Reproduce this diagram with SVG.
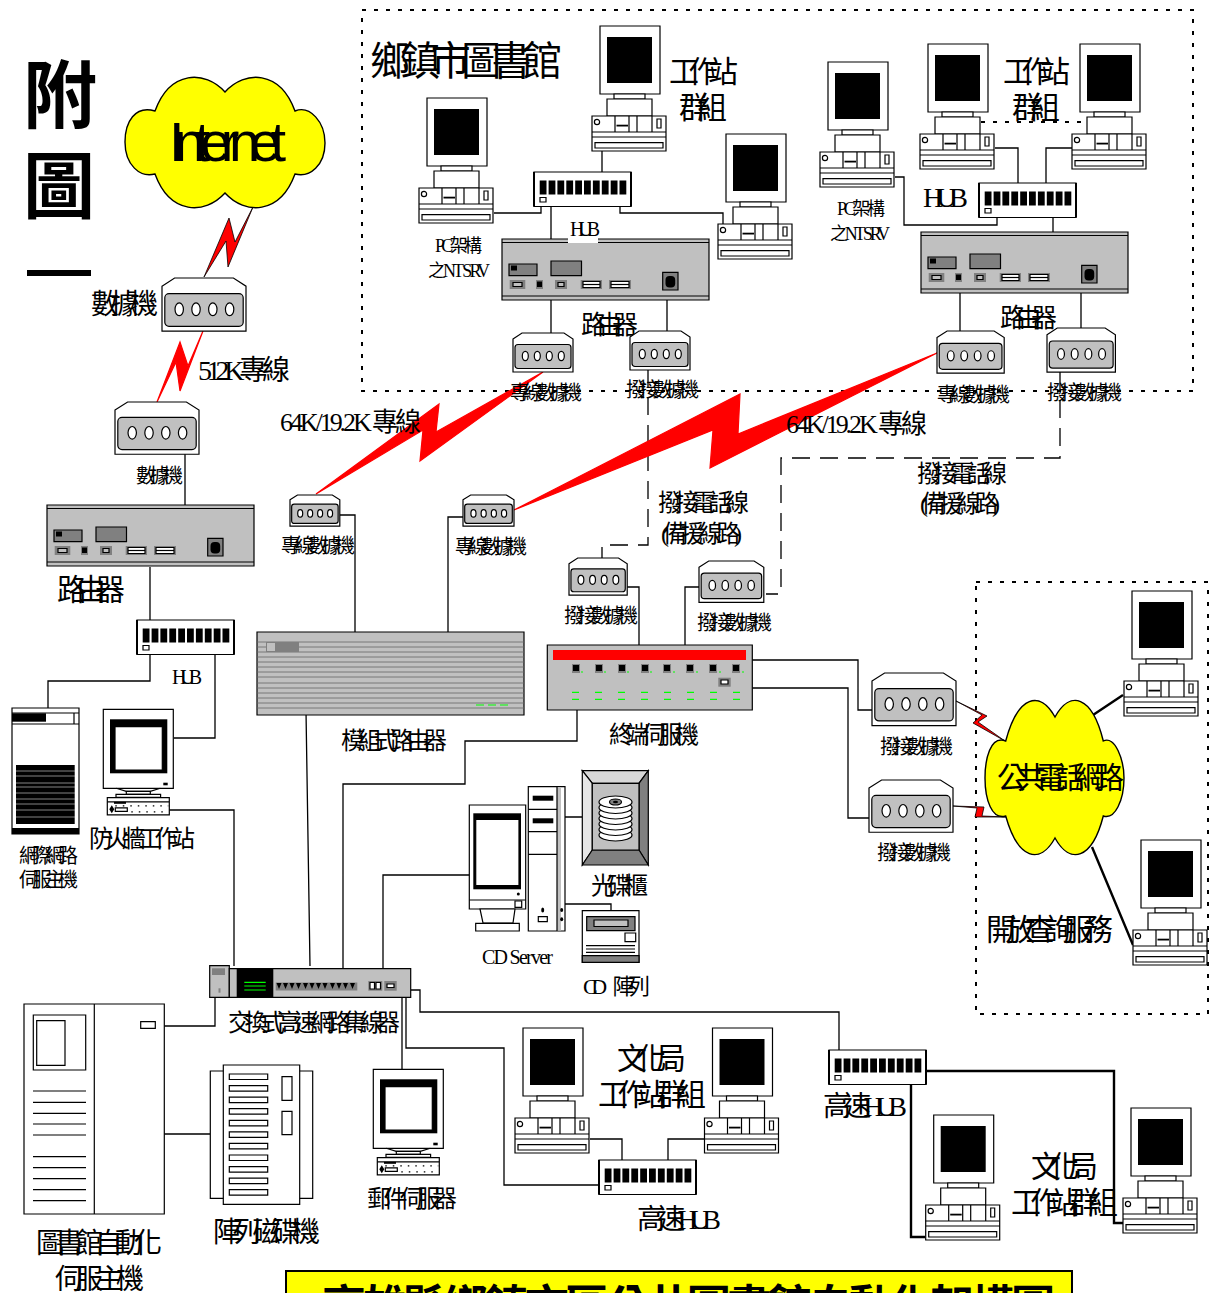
<svg xmlns="http://www.w3.org/2000/svg" xmlns:xlink="http://www.w3.org/1999/xlink" width="1210" height="1293" viewBox="0 0 1210 1293">
<style>
text{font-family:"Liberation Serif","Noto Sans CJK TC","Noto Sans CJK SC",serif;fill:#000;text-anchor:start}
.b{font-weight:700}
.s,.s *{vector-effect:non-scaling-stroke}
.s{stroke:#000;stroke-width:1.2;fill:#fff}
.g{fill:#c0c0c0}
.d{fill:#808080}
.k{fill:#000;stroke:none}
.w{fill:#fff}
.n{fill:none}
.l{fill:none;stroke:#000;stroke-width:1.3}
.lt{fill:none;stroke:#000;stroke-width:2.4}
.dot{fill:none;stroke:#000;stroke-width:2;stroke-dasharray:4 8}
.dash{fill:none;stroke:#000;stroke-width:1.3;stroke-dasharray:18 10}
.bolt{fill:#f00;stroke:#f00;stroke-width:1.2}
.boltk{fill:#f00;stroke:#000;stroke-width:.8}
.cloud{fill:#ff0;stroke:#000;stroke-width:1.4}
.gl{stroke:#0f0;stroke-width:1.2;fill:none}
</style>
<defs>
<g id="pc" class="s">
<rect width="60" height="68"/>
<rect class="k" x="7" y="11" width="45" height="46"/>
<rect x="14" y="68" width="31" height="5"/>
<rect x="7" y="73" width="45" height="17"/>
<rect x="-8" y="90" width="74" height="35"/>
<path class="n" d="M-8 106H66M-8 111H66M15 90V106M29 90V106M37 90V106M52 90V106"/>
<path class="n" style="stroke-width:1.8" d="M16.5 99.6H28"/>
<rect x="-5" y="116.6" width="68" height="5.4"/>
<rect x="57" y="93" width="4" height="9"/>
<circle cx="-3" cy="96" r="2.6"/>
</g>
<g id="hub" class="s">
<rect width="97" height="34.5"/>
<path class="n" d="M0 0V34.5M97 0V34.5" style="stroke-width:2"/>
<g class="k">
<rect x="5.7" y="8.5" width="6.8" height="14"/><rect x="14.6" y="8.5" width="6.8" height="14"/><rect x="23.4" y="8.5" width="6.8" height="14"/><rect x="32.3" y="8.5" width="6.8" height="14"/><rect x="41.2" y="8.5" width="6.8" height="14"/><rect x="50" y="8.5" width="6.8" height="14"/><rect x="58.9" y="8.5" width="6.8" height="14"/><rect x="67.8" y="8.5" width="6.8" height="14"/><rect x="76.7" y="8.5" width="6.8" height="14"/><rect x="85.5" y="8.5" width="6.8" height="14"/>
</g>
<rect x="6" y="25.5" width="6" height="4.5"/>
</g>
<g id="router" class="s">
<rect class="g" width="207" height="61"/>
<path class="n" d="M0 3.5H207M0 57H207"/>
<rect class="d" x="7" y="25" width="28" height="11.7"/>
<rect class="k" x="9" y="26.5" width="6" height="5"/>
<rect class="d" x="49" y="22" width="30.5" height="14.7"/>
<rect class="d" style="stroke:none" x="7.7" y="41" width="15.6" height="9"/>
<rect class="g" x="11" y="43.5" width="9" height="4"/>
<rect class="d" style="stroke:none" x="34" y="41" width="7" height="9"/>
<rect class="k" x="35" y="42.5" width="5" height="5.5"/>
<rect class="d" style="stroke:none" x="53" y="41" width="12" height="9"/>
<rect class="g" x="56" y="43.5" width="6" height="4"/>
<rect class="d" style="stroke:none" x="78.7" y="41" width="21.3" height="9"/>
<rect x="81" y="42.5" width="17" height="6"/>
<path class="n" d="M81 45.5H98"/>
<rect class="d" style="stroke:none" x="107" y="41" width="22" height="9"/>
<rect x="109" y="42.5" width="18" height="6"/>
<path class="n" d="M109 45.5H127"/>
<rect class="d" x="160.7" y="33.3" width="15.3" height="17.7"/>
<rect class="k" x="163.5" y="37" width="9.7" height="11.5" rx="4"/>
</g>
<g id="modem" class="s">
<path d="M0 6L9 0H51L60 6V39H0Z"/>
<rect class="g" x="2" y="11.5" width="56" height="24" rx="3"/>
<ellipse cx="12.3" cy="23" rx="3" ry="4.7"/><ellipse cx="24.3" cy="23" rx="3" ry="4.7"/><ellipse cx="36.3" cy="23" rx="3" ry="4.7"/><ellipse cx="48.3" cy="23" rx="3" ry="4.7"/>
</g>
<g id="crt" class="s">
<rect width="70" height="79"/>
<rect class="k" x="6.7" y="10" width="57.3" height="54"/>
<rect x="11.7" y="17.4" width="47.3" height="43.3"/>
<rect class="k" x="60" y="73.4" width="4.4" height="2.6"/>
<path class="n" d="M13 79L23 82H47L57 79"/>
<rect x="23" y="82" width="24" height="3"/>
<rect x="12.7" y="85" width="44.6" height="3"/>
<rect x="4" y="88.3" width="62" height="17.3"/>
<path class="n" d="M4 92.5H66"/>
<rect class="k" x="10.7" y="92.5" width="12" height="2"/>
<path class="k" d="M8.5 96L11 100L8.5 104L6 100Z"/>
<rect x="12" y="98.5" width="12" height="3.5"/>
<path class="n" style="stroke-dasharray:1.5 6" d="M12 96.5H65M28 102.5H65"/>
</g>
</defs>

<g id="connectors">
<path class="dot" d="M362 10H1193V391H362Z"/>
<path class="dot" d="M976 582H1208V1014H976Z"/>
<path class="dot" d="M981 122H1083"/>
<path class="l" d="M602 151V172M494 213H541V206M620 206V213H723V224M551 206V239M551 300V333M667 300V331"/>
<path class="l" d="M895 177H904V225H997V218M995 148H1018V183M1073 148H1046V183M1053 218V232M960 292V336M1081 292V328"/>
<path class="dash" d="M648 369V545H602V558"/>
<path class="dash" d="M1060 372V458H781V594H766"/>
<path class="l" d="M185 454V505M150 567V620M150 655V681H48V708M215 655V738H174M169 810H234V966"/>
<path class="l" d="M340 515H355V632M448 632V517H463M306 711L310 966"/>
<path class="l" d="M577 710V741H465V784H343V970M383 968V875H472"/>
<path class="l" d="M752 660H858V710H872M752 688H848V818H869M627 587H639V645M685 645V587H699"/>
<path class="l" d="M565 817H582M565 904H611V911"/>
<path class="l" d="M215 997V1026H164M402 997V1069M406 997V1048H504V1185H599M411 990H420V1012H839V1050"/>
<path class="l" d="M590 1139H622V1160M705 1139H668V1160M164 1134H210"/>
<path class="lt" d="M925 1071H1114V1223H1127M911 1085V1237H925"/>
<path class="lt" d="M1093 715L1123 695M1092 847L1133 945"/>
<path class="boltk" d="M204 277L229 218L235 242L253 207L228 267L226 241Z"/>
<path class="bolt" d="M157 402L180 342L188 366L203 331L180 391L176 362Z"/>
<path class="bolt" d="M316 494L439 404L436 432L543 372L420 461L423 430Z"/>
<path class="bolt" d="M514 510L740 394L738 434L937 353L710 468L713 430Z"/>
<path class="boltk" d="M956 701L987 716L978 722L1005 741L973 723L982 715Z"/>
<path class="boltk" d="M953 806L984 807L982 816L1007 817L975 817L977 808Z"/>
</g>

<g id="title-side">
<text class="b" x="23" y="122" font-size="74" textLength="70">附</text>
<text class="b" x="23" y="212" font-size="72" textLength="70">圖</text>
<rect x="27" y="270" width="64" height="6" fill="#000"/>
</g>

<g id="internet">
<path class="cloud" d="M225 92C205 70 170 70 155 111C135 105 125 122 125 142C125 165 140 178 155 174C170 215 205 215 225 193C245 215 280 215 295 174C310 178 325 165 325 143C325 122 310 105 295 111C280 70 245 70 225 92Z"/>
<text style="font-family:'Liberation Sans',sans-serif" x="169" y="161" font-size="56" textLength="117" lengthAdjust="spacing">Internet</text>
</g>

<g id="library-title"><text x="370" y="75" font-size="40" textLength="192">鄉鎮市圖書館</text></g>

<g id="pc-top-1"><use href="#pc" x="600" y="26"/></g>
<g id="pc-top-2"><use href="#pc" x="427" y="98"/>
<text x="435" y="252" font-size="18" textLength="47">PC架構</text>
<text x="428" y="277" font-size="18" textLength="62">之NT SRV</text></g>
<g id="pc-top-3"><use href="#pc" x="726" y="134"/></g>
<text x="669" y="82" font-size="30" textLength="69">工作站</text>
<text x="679" y="118" font-size="30" textLength="48">群組</text>

<g id="router-a"><use href="#router" x="502" y="239"/>
<rect x="568" y="238" width="30" height="5" fill="#fff"/>
<text x="570" y="236" font-size="20" textLength="30">HUB</text>
<text x="581" y="334" font-size="26" textLength="57">路由器</text></g>
<g id="hub-a"><use href="#hub" x="534" y="172"/></g>
<g id="modem-a1"><use href="#modem" x="513" y="333"/><text x="510" y="400" font-size="20" textLength="72">專線數據機</text></g>
<g id="modem-a2"><use href="#modem" x="630" y="331"/><text x="626" y="397" font-size="20" textLength="73">撥接數據機</text></g>

<g id="pc-right-1"><use href="#pc" x="828" y="62"/>
<text x="837" y="215" font-size="18" textLength="48">PC架構</text>
<text x="830" y="240" font-size="18" textLength="60">之NT SRV</text></g>
<g id="pc-right-2"><use href="#pc" x="928" y="44"/></g>
<g id="pc-right-3"><use href="#pc" x="1080" y="44"/></g>
<text x="1003" y="82" font-size="30" textLength="67">工作站</text>
<text x="1012" y="118" font-size="30" textLength="48">群組</text>
<g id="hub-b"><use href="#hub" x="979" y="183"/><text x="923" y="207" font-size="28" textLength="45">HUB</text></g>
<g id="router-b"><use href="#router" x="921" y="232"/><text x="1000" y="327" font-size="26" textLength="57">路由器</text></g>
<g id="modem-b1"><use href="#modem" transform="translate(937 331) scale(1.12 1.08)"/><text x="937" y="402" font-size="20" textLength="73">專線數據機</text></g>
<g id="modem-b2"><use href="#modem" transform="translate(1047 328) scale(1.14 1.13)"/><text x="1047" y="400" font-size="20" textLength="75">撥接數據機</text></g>

<text x="280" y="431" font-size="26" textLength="141">64K/19.2K 專線</text>
<text x="786" y="433" font-size="26" textLength="141">64K/19.2K 專線</text>
<text x="917" y="482" font-size="24" textLength="90">撥接電話線</text>
<text x="920" y="512" font-size="24" textLength="80">(備援線路)</text>
<text x="658" y="511" font-size="24" textLength="91">撥接電話線</text>
<text x="661" y="542" font-size="24" textLength="81">(備援線路)</text>

<g id="modem-c1"><use href="#modem" transform="translate(162 278) scale(1.4 1.36)"/><text x="91" y="314" font-size="28" textLength="67">數據機</text></g>
<text x="198" y="380" font-size="28" textLength="92">512K專線</text>
<g id="modem-c2"><use href="#modem" transform="translate(115 402) scale(1.4 1.34)"/><text x="136" y="483" font-size="20" textLength="47">數據機</text></g>
<g id="router-c"><use href="#router" x="47" y="505"/><text x="57" y="600" font-size="30" textLength="68">路由器</text></g>
<g id="hub-c"><use href="#hub" x="137" y="620"/><text x="172" y="684" font-size="20" textLength="30">HUB</text></g>

<g id="web-server" class="s">
<rect x="12" y="708" width="67" height="126"/>
<path class="n" d="M12 713H79M12 724H79M74 713V724"/>
<rect class="k" x="12" y="713.3" width="34" height="8.4"/>
<rect class="k" x="16" y="765" width="58.7" height="59"/>
<path class="n" style="stroke:#bbb;stroke-width:.7" d="M16 771H75M16 776H75M16 783H75M16 787H75M16 793H75M16 799H75M16 804H75M16 810H75M16 817H75"/>
<rect class="k" x="12" y="828" width="67" height="6"/>
<text style="stroke:none" x="19" y="863" font-size="20" textLength="59">網際網路</text>
<text style="stroke:none" x="19" y="887" font-size="20" textLength="59">伺服主機</text>
</g>
<g id="firewall"><use href="#crt" x="103.3" y="709.3"/><text x="89" y="847" font-size="24" textLength="106">防火牆工作站</text></g>

<g id="modem-d1"><use href="#modem" transform="translate(290 495) scale(.83 .8)"/><text x="281" y="553" font-size="20" textLength="74">專線數據機</text></g>
<g id="modem-d2"><use href="#modem" transform="translate(463 495) scale(.85 .8)"/><text x="455" y="554" font-size="20" textLength="72">專線數據機</text></g>
<g id="modem-e1"><use href="#modem" transform="translate(569 558) scale(.97 .95)"/><text x="564" y="623" font-size="20" textLength="74">撥接數據機</text></g>
<g id="modem-e2"><use href="#modem" transform="translate(699 561) scale(1.08 1.06)"/><text x="697" y="630" font-size="20" textLength="75">撥接數據機</text></g>

<g id="module-router" class="s">
<rect class="g" x="257" y="632" width="267" height="83"/>
<path class="n" style="stroke:#666;stroke-width:.8" d="M257 642H524M257 647H524M257 652H524M257 657H524M257 662H524M257 667H524M257 672H524M257 677H524M257 683H524M257 688H524M257 693H524M257 698H524M257 703H524M257 708H524"/>
<rect class="d" style="stroke:none" x="266" y="642" width="33" height="10"/>
<rect class="g" style="stroke:none" x="267" y="643" width="8" height="8"/>
<path class="gl" d="M476 705H484M488 705H496M500 705H508"/>
<text style="stroke:none" x="341" y="749" font-size="24" textLength="106">模組式路由器</text>
</g>

<g id="terminal-server" class="s">
<rect class="g" x="547.3" y="645" width="205" height="65"/>
<rect x="553" y="650" width="193" height="10" fill="#f00" style="fill:#f00;stroke:none"/>
<g class="d" style="stroke:none"><rect x="572" y="664" width="8" height="9"/><rect x="595" y="664" width="8" height="9"/><rect x="618" y="664" width="8" height="9"/><rect x="641" y="664" width="8" height="9"/><rect x="663" y="664" width="8" height="9"/><rect x="686" y="664" width="8" height="9"/><rect x="709" y="664" width="8" height="9"/><rect x="732" y="664" width="8" height="9"/></g>
<g class="k"><rect x="573" y="665" width="6" height="6"/><rect x="596" y="665" width="6" height="6"/><rect x="619" y="665" width="6" height="6"/><rect x="642" y="665" width="6" height="6"/><rect x="664" y="665" width="6" height="6"/><rect x="687" y="665" width="6" height="6"/><rect x="710" y="665" width="6" height="6"/><rect x="733" y="665" width="6" height="6"/></g>
<path class="gl" d="M572 692.3H579M595 692.3H602M618 692.3H625M641 692.3H648M664 692.3H671M687 692.3H694M710 692.3H717M733 692.3H740M572 699.3H579M595 699.3H602M618 699.3H625M641 699.3H648M664 699.3H671M687 699.3H694M710 699.3H717M733 699.3H740M581 672H583M604 672H606M627 672H629M650 672H652M673 672H675M696 672H698M719 672H721M742 672H744"/>
<rect class="d" style="stroke:none" x="718.3" y="677.7" width="12.4" height="9"/>
<rect x="721" y="680" width="7" height="4"/>
<text style="stroke:none" x="609" y="743" font-size="24" textLength="90">終端伺服機</text>
</g>

<g id="modem-f1"><use href="#modem" transform="translate(872 673) scale(1.4 1.35)"/><text x="880" y="754" font-size="20" textLength="73">撥接數據機</text></g>
<g id="modem-f2"><use href="#modem" transform="translate(869 780) scale(1.4 1.34)"/><text x="877" y="860" font-size="20" textLength="74">撥接數據機</text></g>

<g id="public-net">
<path class="cloud" d="M1055 717C1040 690 1018 695 1005.7 741C990 735 985 760 985 778C985 800 992 820 1005.7 816C1018 860 1040 865 1055 838C1070 865 1092 860 1103.3 816C1115 820 1124 800 1124 778C1124 760 1115 735 1103.3 741C1092 695 1070 690 1055 717Z"/>
<text x="997" y="788" font-size="30" textLength="127">公共電話網路</text>
</g>
<g id="pc-pub-1"><use href="#pc" x="1132" y="591"/></g>
<g id="pc-pub-2"><use href="#pc" x="1141" y="840"/></g>
<text x="986" y="940" font-size="30" textLength="127">開放查詢服務</text>

<g id="cd-server" class="s">
<rect x="469.3" y="805" width="56.4" height="104"/>
<rect class="k" x="473.3" y="813.3" width="47.7" height="76"/>
<rect x="475.7" y="819.3" width="43.3" height="66.4"/>
<path class="n" d="M469.3 900H525.7"/>
<rect x="515" y="901" width="6.7" height="6.3"/>
<circle class="k" cx="518.3" cy="894" r="1.5"/>
<path d="M480 909L483 923H513L515 909Z"/>
<rect x="475.7" y="923.3" width="43.6" height="7.7"/>
<rect x="528.3" y="786.7" width="36.7" height="144.3"/>
<rect class="g" style="stroke:none" x="557" y="787.5" width="4" height="143"/>
<path class="n" d="M528.3 809.3H557M528.3 831.7H557M528.3 854.3H557M557 786.7V931"/>
<rect class="k" x="532.7" y="795.7" width="20.6" height="5"/>
<rect class="k" x="532.7" y="818.3" width="20.6" height="5"/>
<ellipse class="k" cx="542.7" cy="910" rx="1.5" ry="2.5"/>
<rect x="538.3" y="916.7" width="9" height="5"/>
<ellipse class="k" cx="561.7" cy="910" rx="1.5" ry="2"/>
<ellipse class="k" cx="561.7" cy="919.3" rx="1.5" ry="2"/>
<text style="stroke:none" x="482" y="964" font-size="20" textLength="71">CD Server</text>
</g>

<g id="cd-cabinet" class="s">
<path style="fill:#d8d8d8" d="M582.3 770.7H648.3L639 783.3H592.3Z"/>
<path style="fill:#e6e6e6" d="M582.3 770.7L592.3 783.3V850L582.3 865Z"/>
<path class="d" d="M648.3 770.7L639 783.3V850L648.3 865Z"/>
<path class="d" d="M582.3 865L592.3 850H639L648.3 865Z"/>
<rect class="g" x="592.3" y="783.3" width="46.7" height="66.7"/>
<ellipse cx="615.5" cy="835" rx="16.5" ry="6"/><ellipse cx="615.5" cy="829.5" rx="16.5" ry="6"/><ellipse cx="615.5" cy="824" rx="16.5" ry="6"/><ellipse cx="615.5" cy="818.5" rx="16.5" ry="6"/><ellipse cx="615.5" cy="813" rx="16.5" ry="6"/><ellipse cx="615.5" cy="807.5" rx="16.5" ry="6"/><ellipse cx="615.5" cy="802" rx="16.5" ry="6"/>
<ellipse class="d" cx="615.5" cy="802" rx="6" ry="3"/>
<ellipse class="k" cx="615.5" cy="802" rx="2.5" ry="1.2"/>
<text style="stroke:none" x="591" y="894" font-size="24" textLength="57">光碟櫃</text>
</g>

<g id="cd-array" class="s">
<rect x="582.3" y="910.7" width="56.7" height="51.6"/>
<rect class="d" x="586.7" y="916.7" width="48.3" height="14"/>
<rect class="g" x="594" y="920" width="34" height="6.5"/>
<rect x="625" y="933" width="10.7" height="8.7"/>
<path class="n" d="M586 945.7H635M586 949H635M586 952.3H635"/>
<rect class="d" x="582.3" y="955.7" width="56.7" height="6.6"/>
<text style="stroke:none" x="583" y="994" font-size="22" letter-spacing="-6.5" word-spacing="13">CD 陣列</text>
</g>

<g id="switch" class="s">
<rect class="g" x="209.7" y="965.7" width="19.6" height="31.6"/>
<rect class="d" style="stroke:none" x="212" y="968.3" width="13" height="6.7"/>
<rect class="d" style="stroke:none" x="218.5" y="988.3" width="2" height="4.4"/>
<rect class="g" x="229.3" y="968.7" width="181.4" height="28.6"/>
<rect class="k" x="236.7" y="969" width="36.6" height="28"/>
<path class="gl" d="M244.3 982.3H265.7M244.3 986H265.7M244.3 990H265.7"/>
<rect class="d" style="stroke:none" x="275.7" y="982.5" width="81.6" height="8"/>
<path class="k" d="M276.5 983H281.5L279 989ZM283 983H288L285.5 989ZM289.5 983H294.5L292 989ZM296 983H301L298.5 989ZM303 983H308L305.5 989ZM309.5 983H314.5L312 989ZM316 983H321L318.5 989ZM322.5 983H327.5L325 989ZM330 983H335L332.5 989ZM336.5 983H341.5L339 989ZM343 983H348L345.5 989ZM350 983H355L352.5 989Z"/>
<rect class="d" style="stroke:none" x="368.3" y="981" width="14" height="9.7"/>
<rect x="370" y="982.5" width="4.5" height="6.5"/><rect x="376" y="982.5" width="4.5" height="6.5"/>
<rect class="d" style="stroke:none" x="384.3" y="981" width="12.4" height="9.7"/>
<rect x="387" y="984" width="7" height="3.5"/>
<text style="stroke:none" x="228" y="1031" font-size="24" textLength="172">交換式高速網路集線器</text>
</g>

<g id="library-server" class="s">
<rect x="24" y="1004" width="140.3" height="210"/>
<path class="n" d="M94.3 1004V1214M33 1091H86M33 1102.3H86M33 1113.3H86M33 1124H86M33 1135H86M33 1156.7H86M33 1167.7H86M33 1178.7H86M33 1189.7H86M33 1200.7H86"/>
<rect x="33.3" y="1015" width="52.4" height="55"/>
<rect x="36.7" y="1020.7" width="28.3" height="44.6"/>
<rect x="140.7" y="1021.7" width="14.6" height="6.6"/>
<text style="stroke:none" x="36" y="1253" font-size="28" textLength="126">圖書館自動化</text>
<text style="stroke:none" x="55" y="1289" font-size="28" textLength="89">伺服主機</text>
</g>

<g id="disk-array" class="s">
<rect x="210.3" y="1071" width="102.4" height="127.3"/>
<rect x="223.3" y="1065" width="76.4" height="139.3"/>
<rect x="229.3" y="1074" width="38.4" height="5.5"/><rect x="229.3" y="1085.6" width="38.4" height="5.5"/><rect x="229.3" y="1097.1" width="38.4" height="5.5"/><rect x="229.3" y="1108.7" width="38.4" height="5.5"/><rect x="229.3" y="1120.3" width="38.4" height="5.5"/><rect x="229.3" y="1131.9" width="38.4" height="5.5"/><rect x="229.3" y="1143.4" width="38.4" height="5.5"/><rect x="229.3" y="1155" width="38.4" height="5.5"/><rect x="229.3" y="1166.6" width="38.4" height="5.5"/><rect x="229.3" y="1178.1" width="38.4" height="5.5"/><rect x="229.3" y="1189.7" width="38.4" height="5.5"/>
<rect x="282" y="1076.7" width="10" height="23.6"/>
<rect x="282" y="1111.3" width="10" height="23.4"/>
<text style="stroke:none" x="213" y="1242" font-size="28" textLength="107">陣列磁碟機</text>
</g>

<g id="mail-server"><use href="#crt" x="373.3" y="1069.3"/><text x="367" y="1207" font-size="24" textLength="90">郵件伺服器</text></g>

<g id="pc-low-1"><use href="#pc" x="523" y="1028"/></g>
<g id="pc-low-2"><use href="#pc" x="712.5" y="1028"/></g>
<text x="617" y="1069" font-size="30" textLength="69">文化局</text>
<text x="598" y="1105" font-size="30" textLength="108">工作站群組</text>
<g id="hub-d"><use href="#hub" x="599" y="1160"/><text x="637" y="1229" font-size="28" textLength="84">高速HUB</text></g>
<g id="hub-e"><use href="#hub" x="829" y="1050"/><text x="823" y="1116" font-size="28" textLength="84">高速HUB</text></g>
<g id="pc-low-3"><use href="#pc" x="933.7" y="1115"/></g>
<g id="pc-low-4"><use href="#pc" x="1131" y="1108"/></g>
<text x="1031" y="1177" font-size="30" textLength="67">文化局</text>
<text x="1011" y="1213" font-size="30" textLength="107">工作站群組</text>

<g id="caption">
<rect x="286" y="1271" width="786" height="30" fill="#ff0" stroke="#000" stroke-width="2"/>
<text class="b" x="322" y="1322" font-size="44" textLength="733">高雄縣鄉鎮市區公共圖書館自動化架構圖</text>
</g>
</svg>
